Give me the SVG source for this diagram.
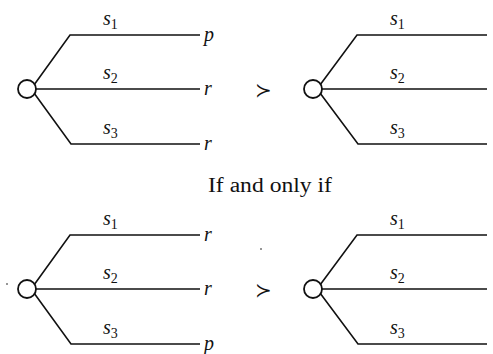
<svg xmlns="http://www.w3.org/2000/svg" width="493" height="354" viewBox="0 0 493 354">
<style>
.br{fill:none;stroke:#111;stroke-width:1.6;}
.nd{fill:#fff;stroke:#111;stroke-width:1.8;}
.lb{font-family:"Liberation Serif",serif;font-style:italic;font-size:20px;fill:#111;}
.sub{font-family:"Liberation Serif",serif;font-style:normal;font-size:14px;fill:#111;}
.rel{font-family:"DejaVu Sans",sans-serif;font-size:20px;fill:#111;}
.cap{font-family:"Liberation Serif",serif;font-size:20px;fill:#111;}
</style>
<rect width="493" height="354" fill="#fff"/>
<g id="connectors">
<path class="br" d="M34,85 L70,35 L200,35 M36,89 L200,89 M34,93 L71,144 L200,144"/>
<path class="br" d="M320,85 L357,35 L487,35 M322,89 L487,89 M320,93 L358,144 L487,144"/>
<path class="br" d="M34,285 L70,235 L200,235 M36,289 L200,289 M34,293 L71,344 L200,344"/>
<path class="br" d="M320,285 L357,235 L487,235 M322,289 L487,289 M320,293 L358,344 L487,344"/>
</g>
<g id="tree1">
<circle class="nd" cx="27" cy="89" r="9"/>
<text class="lb" x="103" y="25">s<tspan class="sub" dy="4">1</tspan></text>
<text class="lb" x="103" y="79">s<tspan class="sub" dy="4">2</tspan></text>
<text class="lb" x="103" y="134">s<tspan class="sub" dy="4">3</tspan></text>
<text class="lb" x="204" y="41">p</text>
<text class="lb" x="204" y="95">r</text>
<text class="lb" x="204" y="150">r</text>
</g>
<g id="rel1"><text class="rel" x="255" y="97">≻</text></g>
<g id="tree2">
<circle class="nd" cx="313" cy="89" r="9"/>
<text class="lb" x="390" y="25">s<tspan class="sub" dy="4">1</tspan></text>
<text class="lb" x="390" y="79">s<tspan class="sub" dy="4">2</tspan></text>
<text class="lb" x="390" y="134">s<tspan class="sub" dy="4">3</tspan></text>
</g>
<g id="caption"><text class="cap" x="208" y="192" textLength="124" lengthAdjust="spacingAndGlyphs">If and only if</text></g>
<g id="tree3">
<circle class="nd" cx="27" cy="289" r="9"/>
<text class="lb" x="103" y="225">s<tspan class="sub" dy="4">1</tspan></text>
<text class="lb" x="103" y="279">s<tspan class="sub" dy="4">2</tspan></text>
<text class="lb" x="103" y="334">s<tspan class="sub" dy="4">3</tspan></text>
<text class="lb" x="204" y="241">r</text>
<text class="lb" x="204" y="295">r</text>
<text class="lb" x="204" y="350">p</text>
</g>
<g id="rel2"><text class="rel" x="255" y="297">≻</text></g>
<g id="tree4">
<circle class="nd" cx="313" cy="289" r="9"/>
<text class="lb" x="390" y="225">s<tspan class="sub" dy="4">1</tspan></text>
<text class="lb" x="390" y="279">s<tspan class="sub" dy="4">2</tspan></text>
<text class="lb" x="390" y="334">s<tspan class="sub" dy="4">3</tspan></text>
</g>
<circle cx="261" cy="249" r="0.8" fill="#111"/>
<circle cx="7" cy="284" r="0.8" fill="#111"/>
</svg>
